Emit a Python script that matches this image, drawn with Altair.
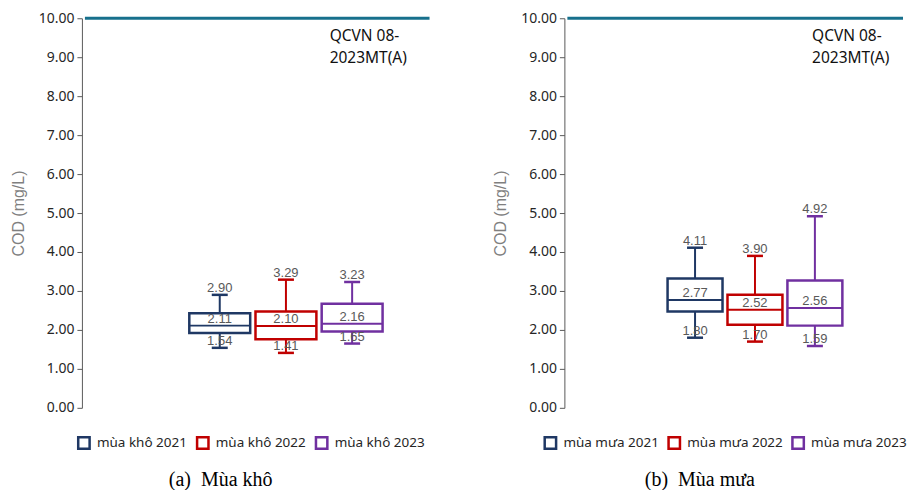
import altair as alt
import pandas as pd

# ---------------- data ----------------
series_kho = ["mùa khô 2021", "mùa khô 2022", "mùa khô 2023"]
kho_min = [1.54, 1.41, 1.65]
kho_q1 = [1.92, 1.76, 1.96]
kho_median = [2.11, 2.10, 2.16]
kho_q3 = [2.43, 2.47, 2.67]
kho_max = [2.90, 3.29, 3.23]

series_mua = ["mùa mưa 2021", "mùa mưa 2022", "mùa mưa 2023"]
mua_min = [1.80, 1.70, 1.59]
mua_q1 = [2.47, 2.13, 2.11]
mua_median = [2.77, 2.52, 2.56]
mua_q3 = [3.32, 2.90, 3.27]
mua_max = [4.11, 3.90, 4.92]

colors = ["#1F3864", "#C00000", "#7030A0"]
limit_value = 10.0
limit_text_y = 9.55
limit_label = "QCVN 08-\n2023MT(A)"
y_ticks = [0, 1, 2, 3, 4, 5, 6, 7, 8, 9, 10]
axis_title = "COD (mg/L)"
captions = ["(a)\u00a0 Mùa khô", "(b)\u00a0 Mùa mưa"]


def panel(series, mn, q1, med, q3, mx, caption, width, height,
          x_range, pad_inner, box_w, legend_x):
    df = pd.DataFrame({"series": series, "min": mn, "q1": q1,
                       "median": med, "q3": q3, "max": mx, "c": colors})
    xs = alt.X("series:N", sort=series, axis=None,
               scale=alt.Scale(domain=series, range=x_range,
                               paddingInner=pad_inner, paddingOuter=0))
    yscale = alt.Scale(domain=[0, 10], nice=False)
    yaxis = alt.Axis(values=y_ticks, format=".2f", grid=False,
                     title=axis_title)

    def Y(field):
        return alt.Y(f"{field}:Q", scale=yscale, axis=yaxis, title=axis_title)

    col = alt.Color("c:N", scale=None)
    base = alt.Chart(df)

    whisker = base.mark_rule(strokeWidth=2).encode(
        x=xs, y=Y("min"), y2="max", color=col)
    cap_lo = base.mark_tick(size=16, thickness=2.5, opacity=1).encode(
        x=xs, y=Y("min"), color=col)
    cap_hi = base.mark_tick(size=16, thickness=2.5, opacity=1).encode(
        x=xs, y=Y("max"), color=col)
    box = base.mark_bar(fill="white", strokeWidth=2.5).encode(
        x=xs, y=Y("q1"), y2="q3",
        stroke=alt.Stroke(
            "series:N", scale=alt.Scale(domain=series, range=colors),
            legend=alt.Legend(
                orient="none", legendX=legend_x, legendY=height + 28,
                direction="horizontal", title=None, symbolType="square",
                symbolSize=130, symbolStrokeWidth=2.5,
                symbolFillColor="white", labelFont="Noto Sans",
                labelFontSize=13.5, labelColor="#262626",
                columnPadding=4, labelOffset=6, padding=0)))
    median = base.mark_tick(size=box_w, thickness=2, opacity=1).encode(
        x=xs, y=Y("median"), color=col)
    labels = base.transform_fold(["min", "median", "max"],
                                 as_=["stat", "val"]).mark_text(
        baseline="bottom", font="Liberation Sans", fontSize=13,
        color="#595959").encode(
        x=xs, y=alt.Y("val:Q", scale=yscale, axis=yaxis, title=axis_title),
        text=alt.Text("val:Q", format=".2f"))
    limit = alt.Chart(pd.DataFrame({"v": [limit_value]})).mark_rule(
        color="#17708C", strokeWidth=3).encode(
        y=alt.Y("v:Q", scale=yscale, axis=yaxis, title=axis_title),
        x=alt.value(3), x2=alt.value(width))
    limit_txt = alt.Chart(pd.DataFrame({"t": [limit_label],
                                        "v": [limit_text_y]})).mark_text(
        align="left", baseline="middle", lineBreak="\n", lineHeight=22,
        font="Noto Sans", fontSize=15.5, color="#111111").encode(
        y=alt.Y("v:Q", scale=yscale, axis=yaxis, title=axis_title),
        x=alt.value(248), text="t:N")

    return alt.layer(whisker, cap_lo, cap_hi, box, median, labels,
                     limit, limit_txt).properties(
        width=width, height=height,
        title=alt.TitleParams(caption, orient="bottom", anchor="middle",
                              frame="bounds", font="Liberation Serif",
                              fontSize=20, fontWeight="normal",
                              color="black", offset=16))


left = panel(series_kho, kho_min, kho_q1, kho_median, kho_q3, kho_max,
             captions[0], 348, 390, [107.5, 301], 0.08, 61, -5)
right = panel(series_mua, mua_min, mua_q1, mua_median, mua_q3, mua_max,
              captions[1], 339, 390, [103.3, 278.3], 0.083, 55, -21)

chart = alt.hconcat(left, right, spacing=61).resolve_scale(
    stroke="independent", x="independent",
    y="independent").resolve_legend(stroke="independent").properties(
    padding={"top": 3, "left": 2, "right": 0, "bottom": 0}
).configure_view(stroke=None).configure_axis(
    labelFont="Noto Sans", labelFontSize=14, labelColor="#262626",
    titleFont="Liberation Sans", titleFontSize=16, titleColor="#7F7F7F",
    titleFontWeight="normal", domainColor="#595959", tickColor="#595959",
    tickSize=5, labelPadding=3, titlePadding=12)

chart.save("out.html", embed_options={"renderer": "svg", "actions": False})
